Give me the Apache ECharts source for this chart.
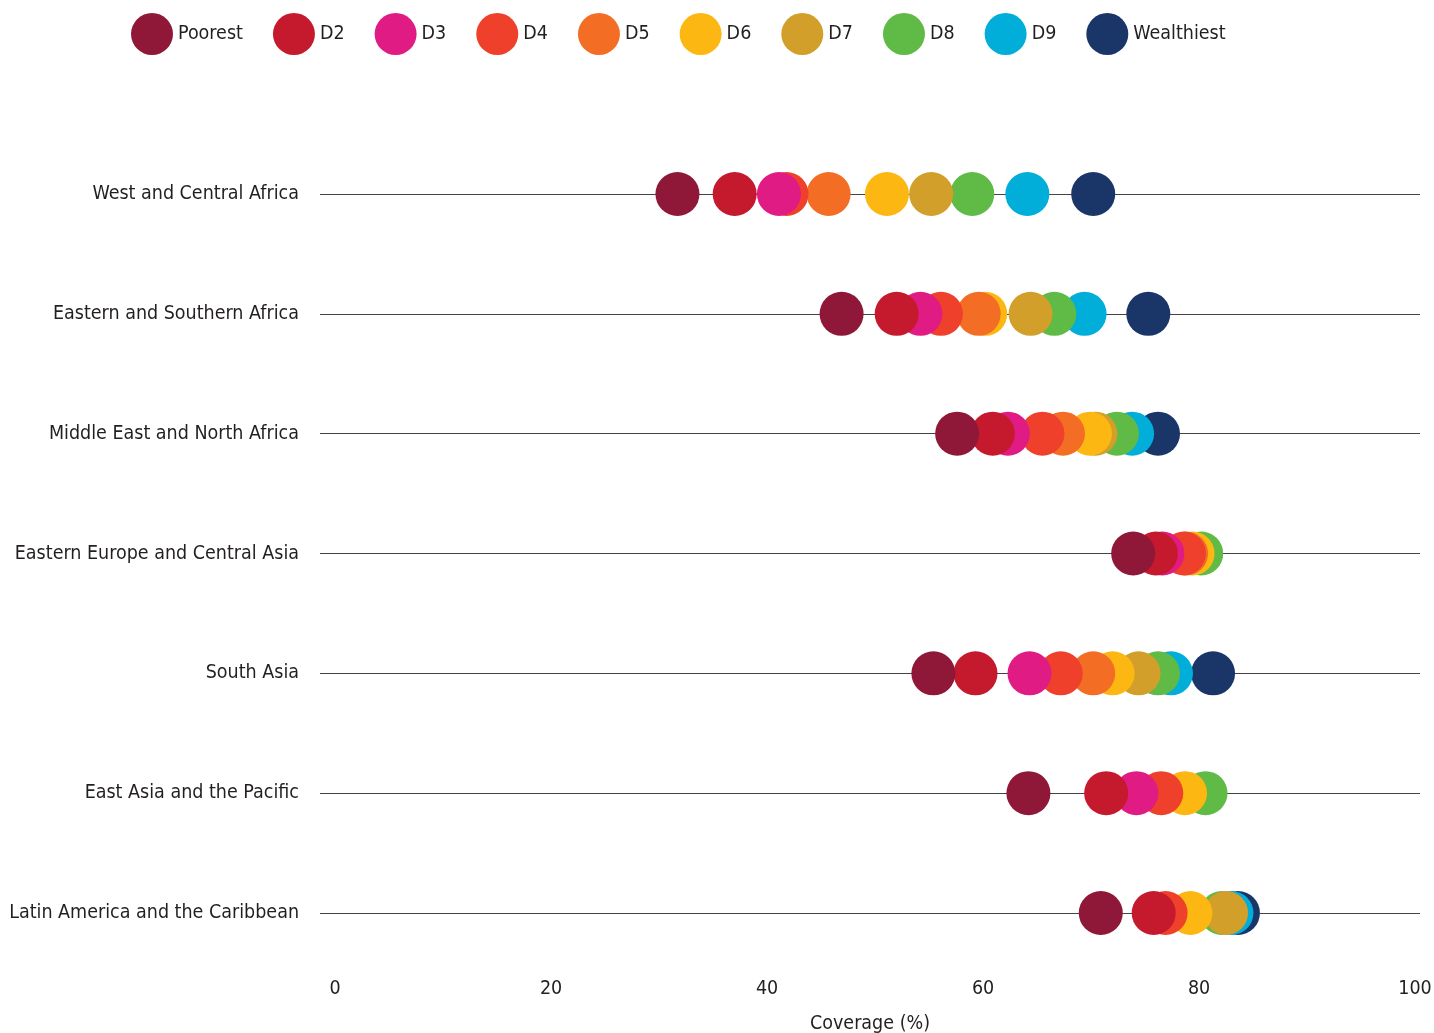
<!DOCTYPE html>
<html>
<head>
<meta charset="utf-8">
<script src="https://cdn.jsdelivr.net/npm/echarts@6/dist/echarts.min.js"></script>
<style>
html,body{margin:0;padding:0;background:#fff;}
#chart{width:1434px;height:1033px;}
</style>
</head>
<body>
<div id="chart"></div>
<script>
const regions = ['West and Central Africa','Eastern and Southern Africa','Middle East and North Africa','Eastern Europe and Central Asia','South Asia','East Asia and the Pacific','Latin America and the Caribbean'];
const seriesNames = ['Poorest','D2','D3','D4','D5','D6','D7','D8','D9','Wealthiest'];
const poorest    = [31.7, 46.9, 57.6, 73.9, 55.4, 64.2, 70.9];
const d2         = [37.0, 52.0, 60.9, 76.0, 59.3, 71.4, 75.8];
const d3         = [41.1, 54.2, 62.3, 76.6, 64.3, 74.2, null];
const d4         = [41.8, 56.1, 65.5, 78.6, 67.2, 76.5, 76.9];
const d5         = [45.7, 59.6, 67.4, 78.8, 70.2, null, null];
const d6         = [51.1, 60.2, 69.9, 79.4, 72.0, 78.7, 79.2];
const d7         = [55.2, 64.4, 70.4, null, 74.4, null, 82.5];
const d8         = [59.0, 66.6, 72.4, 80.2, 76.2, 80.6, 82.1];
const d9         = [64.1, 69.4, 73.8, null, 77.4, null, 83.0];
const wealthiest = [70.2, 75.3, 76.2, null, 81.3, null, 83.6];
const xTicks = [0, 20, 40, 60, 80, 100];

const allValues = [poorest, d2, d3, d4, d5, d6, d7, d8, d9, wealthiest];
const colors = ['#8F1838','#C5192D','#E11B84','#EF402B','#F36D25','#FDB713','#D19F2A','#5FBA46','#00AED9','#1A3668'];
const font = "'Liberation Sans Narrow','Arial Narrow','DejaVu Sans Condensed',sans-serif";
const fs = 19.5;

const series = seriesNames.map((name, i) => ({
  name: name,
  type: 'scatter',
  symbol: 'circle',
  symbolSize: 44,
  z: 20 - i,
  itemStyle: { color: colors[i], opacity: 1 },
  emphasis: { disabled: true },
  data: allValues[i].map((v, r) => v == null ? null : [v, r]).filter(d => d !== null)
}));

const chart = echarts.init(document.getElementById('chart'), null, {renderer: 'canvas'});
chart.setOption({
  animation: false,
  color: colors,
  legend: {
    data: seriesNames.map(n => ({name: n, icon: 'circle'})),
    left: 126,
    top: 8,
    itemWidth: 42,
    itemHeight: 42,
    itemGap: 30,
    textStyle: { fontFamily: font, fontSize: fs, color: '#231f20' }
  },
  grid: { left: 320, right: 14, top: 194, bottom: 120, containLabel: false, outerBoundsMode: 'none' },
  xAxis: {
    type: 'value',
    min: -1.4,
    max: 100.46,
    axisLine: { show: false },
    axisTick: { show: false },
    splitLine: { show: false },
    axisLabel: {
      customValues: xTicks,
      margin: 66,
      fontFamily: font,
      fontSize: fs,
      color: '#231f20'
    },
    name: 'Coverage (%)',
    nameLocation: 'middle',
    nameGap: 101,
    nameTextStyle: { fontFamily: font, fontSize: fs, color: '#231f20' }
  },
  yAxis: {
    type: 'category',
    data: regions,
    inverse: true,
    boundaryGap: false,
    axisLine: { show: false },
    axisTick: { show: false },
    splitLine: { show: true, interval: 0, lineStyle: { color: '#444', width: 1.2 } },
    axisLabel: {
      interval: 0,
      margin: 21,
      fontFamily: font,
      fontSize: fs,
      color: '#231f20'
    }
  },
  series: series
});
</script>
</body>
</html>
